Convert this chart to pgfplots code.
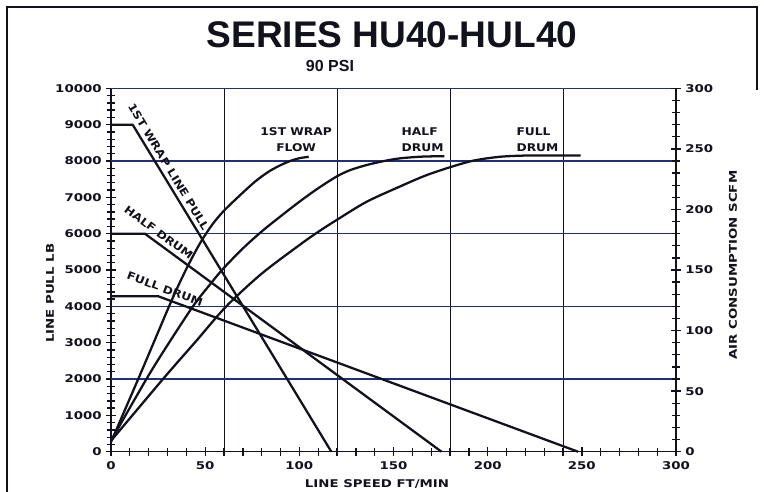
\documentclass[border=0pt]{standalone}
\usepackage{pgfplots}
\pgfplotsset{compat=1.18}
\usepackage{fontspec}
\setmainfont{Liberation Sans}
\newfontfamily\dejavu{DejaVu Sans}
\usepackage{graphicx}

\definecolor{gridblue}{RGB}{35,45,125}
\definecolor{ink}{RGB}{18,18,28}

\newcommand{\lbl}[1]{\scalebox{1.15}[1]{\dejavu\bfseries\fontsize{8}{10.5}\selectfont #1}}
\newcommand{\tlbl}[1]{\scalebox{1.25}[1]{\dejavu\bfseries\fontsize{8}{10}\selectfont #1}}

\pgfplotstableread{
x y
0 9000
11.5 9000
117 0
}\wrappull
\pgfplotstableread{
x y
0 6000
18 6000
175.5 0
}\halfpull
\pgfplotstableread{
x y
0 4280
25 4280
248 0
}\fullpull

\pgfplotstableread{
x y
0 8
15 62
30 117
36 138
42 157
48 174
54 188
60 199
68 211
76.5 223
84 231.5
90.6 237
96 240.5
100 242.3
105 243.5
}\wrapflow
\pgfplotstableread{
x y
0 9
18.8 60
30 88
43.5 120
52 137
59.5 151
70 167.8
80 181.8
90 194.3
100.4 206.8
110 217.5
119.8 227.2
127 232.5
135.8 236.7
145 240
153.5 242.2
165 243.6
177 244
}\halfflow
\pgfplotstableread{
x y
0 9
27.6 60
45 91
61.2 120
80 147
100.4 171
110 181.5
119.8 191.3
135.8 206.4
153.5 219
167 228
180.9 235.3
193 240.5
206.6 243.5
220 244.5
235 244.6
249.4 244.6
}\fullflow

\begin{document}
\begin{tikzpicture}
\useasboundingbox (-83.25pt,-30.2pt) rectangle (489.75pt,338.8pt);
\fill[white] (-83.25pt,-30.2pt) rectangle (489.75pt,338.8pt);
\draw[line width=1.4pt, ink] (-78pt,-31pt) -- (-78pt,333.5pt) -- (484.5pt,333.5pt) -- (484.5pt,271pt);

\node[font=\bfseries\fontsize{27.8}{30}\selectfont, ink] at (210.75pt,312.5pt) {SERIES HU40-HUL40};
\node[font=\bfseries\fontsize{12}{14}\selectfont, ink] at (164.25pt,289.3pt) {90 PSI};
\node[rotate=90, ink] at (-45.75pt,118.8pt) {\tlbl{LINE PULL LB}};
\node[rotate=90, ink] at (466.5pt,140pt) {\tlbl{AIR CONSUMPTION SCFM}};
\node[ink] at (199.5pt,-24.2pt) {\tlbl{LINE SPEED FT/MIN}};

\begin{axis}[
  scale only axis, width=423.75pt, height=272.55pt,
  xmin=0, xmax=300, ymin=0, ymax=10000,
  axis x line*=bottom, axis y line*=left,
  axis line style={-, ink, line width=1.1pt},
  xtick={0,50,...,300}, minor x tick num=4,
  ytick={0,1000,...,10000}, minor y tick num=4,
  scaled y ticks=false, scaled x ticks=false,
  tick align=center,
  major tick length=7pt, minor tick length=6pt,
  every tick/.style={ink, line width=1pt},
  /pgf/number format/assume math mode=true,
  /pgf/number format/1000 sep={},
  xticklabel={\tlbl{\pgfmathprintnumber{\tick}}},
  yticklabel={\tlbl{\pgfmathprintnumber{\tick}}},
  ticklabel style={ink},
  extra x ticks={60,120,180,240},
  extra x tick labels={},
  extra x tick style={grid=major, major tick length=0pt, major grid style={ink, line width=0.7pt}},
  extra y ticks={2000,4000,6000,8000,10000},
  extra y tick labels={},
  extra y tick style={grid=major, major tick length=0pt, major grid style={gridblue, line width=0.9pt}},
  clip=false,
]
\addplot[ink, line width=1.7pt] table {\wrappull};
\addplot[ink, line width=1.7pt] table {\halfpull};
\addplot[ink, line width=1.7pt] table {\fullpull};
\node[rotate=-58.8, anchor=south, inner sep=3.5pt, ink] at (axis cs:26.5,7710) {\lbl{1ST WRAP LINE PULL}};
\node[rotate=-36.3, anchor=south, inner sep=3.5pt, ink] at (axis cs:22.5,5830) {\lbl{HALF DRUM}};
\node[rotate=-20.3, anchor=south, inner sep=3.5pt, ink] at (axis cs:27,4245) {\lbl{FULL DRUM}};
\end{axis}

\begin{axis}[
  scale only axis, width=423.75pt, height=272.55pt,
  xmin=0, xmax=300, ymin=0, ymax=300,
  axis x line=none, axis y line*=right,
  axis line style={-, ink, line width=1.1pt},
  ytick={0,50,...,300}, minor y tick num=4,
  tick align=center,
  major tick length=7pt, minor tick length=6pt,
  every tick/.style={ink, line width=1pt},
  /pgf/number format/assume math mode=true,
  yticklabel={\tlbl{\pgfmathprintnumber{\tick}}},
  yticklabel style={ink},
  clip=false,
]
\addplot[ink, line width=1.7pt, smooth, tension=0.5] table {\wrapflow};
\addplot[ink, line width=1.7pt, smooth, tension=0.5] table {\halfflow};
\addplot[ink, line width=1.7pt, smooth, tension=0.5] table {\fullflow};
\node[anchor=south, align=center, inner sep=1pt, ink] at (axis cs:98.3,246.5) {\lbl{1ST WRAP}\\\lbl{FLOW}};
\node[anchor=south west, align=left, inner sep=1pt, ink] at (axis cs:153.5,246.5) {\lbl{HALF}\\\lbl{DRUM}};
\node[anchor=south west, align=left, inner sep=1pt, ink] at (axis cs:214.5,246.5) {\lbl{FULL}\\\lbl{DRUM}};
\end{axis}
\end{tikzpicture}
\end{document}
